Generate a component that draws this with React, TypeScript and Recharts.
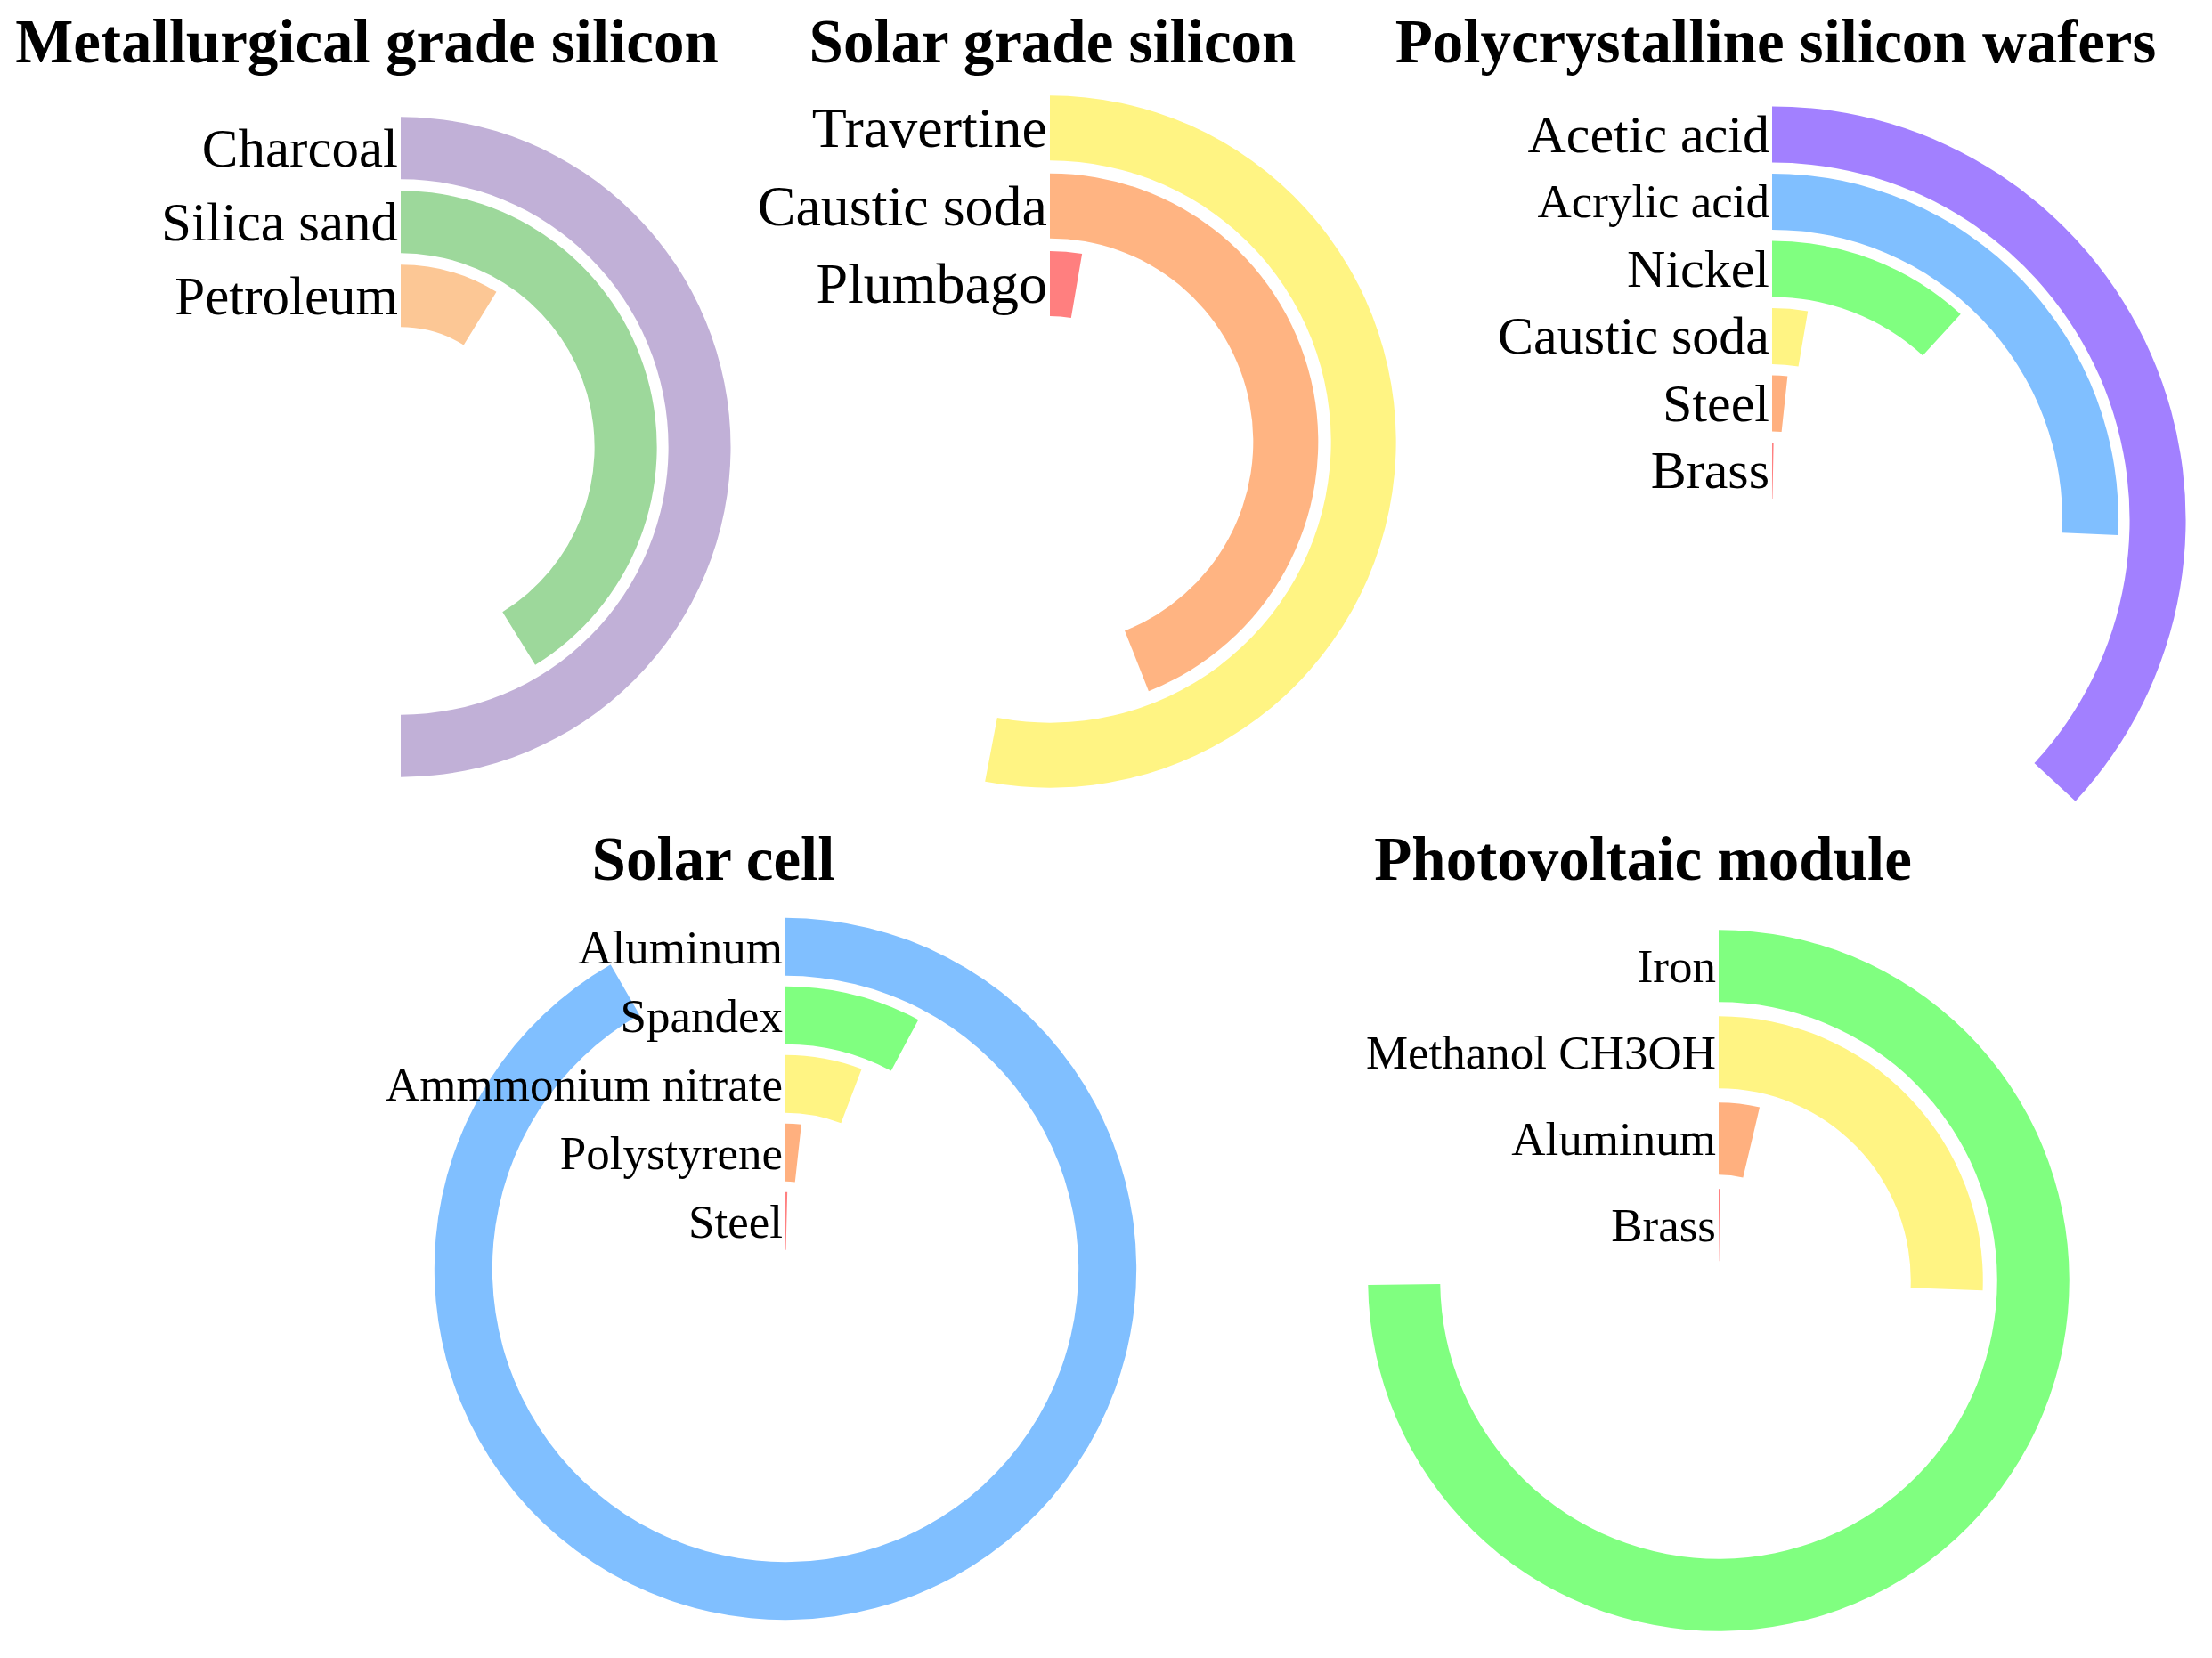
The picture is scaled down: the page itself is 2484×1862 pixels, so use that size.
import { RadialBarChart, RadialBar, PolarAngleAxis, PolarRadiusAxis, Cell } from "recharts";

// shares in % of a full turn
const metallurgicalItems = ["Charcoal", "Silica sand", "Petroleum"];
const metallurgicalShare = [50.0, 41.2, 8.8];

const solarGradeItems = ["Travertine", "Caustic soda", "Plumbago"];
const solarGradeShare = [53.0, 44.0, 2.7];

const waferItems = ["Acetic acid", "Acrylic acid", "Nickel", "Caustic soda", "Steel", "Brass"];
const waferShare = [36.9, 25.7, 11.8, 2.7, 1.7, 0.3];

const cellItems = ["Aluminum", "Spandex", "Ammmonium nitrate", "Polystyrene", "Steel"];
const cellShare = [91.7, 7.8, 5.8, 1.75, 0.4];

const moduleItems = ["Iron", "Methanol CH3OH", "Aluminum", "Brass"];
const moduleShare = [74.8, 25.6, 3.7, 0.2];

const SERIF = "'Liberation Serif', 'Times New Roman', serif";

const panels = [
  {
    title: "Metallurgical grade silicon",
    items: metallurgicalItems,
    share: metallurgicalShare,
    colors: ["#c1b0d7", "#9dd89b", "#fcc795"],
    box: { left: 0, top: 90, width: 830, height: 800 },
    cx: 450, cy: 412, inner: 128, outer: 377,
    labelSize: 61,
    titleX: 412, titleY: 70,
  },
  {
    title: "Solar grade silicon",
    items: solarGradeItems,
    share: solarGradeShare,
    colors: ["#fff483", "#ffb482", "#ff7f7f"],
    box: { left: 830, top: 90, width: 780, height: 800 },
    cx: 349, cy: 406, inner: 134, outer: 396,
    labelSize: 64,
    titleX: 1182, titleY: 70,
  },
  {
    title: "Polycrystalline silicon wafers",
    items: waferItems,
    share: waferShare,
    colors: ["#a280ff", "#80bfff", "#80ff80", "#fff483", "#ffb07f", "#ff8080"],
    box: { left: 1610, top: 90, width: 874, height: 860 },
    cx: 380, cy: 494, inner: 18, outer: 471,
    labelSize: 60,
    labelSizeFor: { "Acrylic acid": 53 } as Record<string, number>,
    titleX: 1994, titleY: 70,
  },
  {
    title: "Solar cell",
    items: cellItems,
    share: cellShare,
    colors: ["#80bfff", "#80ff80", "#fff483", "#ffb07f", "#ff8080"],
    box: { left: 400, top: 1000, width: 1000, height: 850 },
    cx: 482, cy: 425, inner: 15, outer: 400,
    labelSize: 53,
    titleX: 801, titleY: 988,
  },
  {
    title: "Photovoltaic module",
    items: moduleItems,
    share: moduleShare,
    colors: ["#80ff80", "#fff483", "#ffb07f", "#ff8080"],
    box: { left: 1480, top: 1000, width: 1000, height: 850 },
    cx: 450, cy: 438, inner: 14, outer: 402,
    labelSize: 53,
    titleX: 1845, titleY: 988,
  },
];

type Panel = (typeof panels)[number] & { labelSizeFor?: Record<string, number> };

function Ring({ p }: { p: Panel }) {
  // first listed item sits on the outside, so reverse for the radius band scale
  const rows = p.items.map((name, i) => ({ name, share: p.share[i], color: p.colors[i] })).reverse();

  const renderTick = (props: any) => {
    const name = props.payload?.value;
    const size = (p.labelSizeFor && p.labelSizeFor[name]) || p.labelSize;
    return (
      <text
        x={props.x - 3}
        y={props.y}
        textAnchor="end"
        dominantBaseline="central"
        fontFamily={SERIF}
        fontSize={size}
        fill="#000"
      >
        {name}
      </text>
    );
  };

  return (
    <div style={{ position: "absolute", left: p.box.left, top: p.box.top }}>
      <RadialBarChart
        width={p.box.width}
        height={p.box.height}
        data={rows}
        cx={p.cx}
        cy={p.cy}
        innerRadius={p.inner}
        outerRadius={p.outer}
        startAngle={90}
        endAngle={-270}
        barCategoryGap="8%"
        margin={{ top: 0, right: 0, bottom: 0, left: 0 }}
      >
        <PolarAngleAxis type="number" domain={[0, 100]} tick={false} axisLine={false} />
        <PolarRadiusAxis
          type="category"
          dataKey="name"
          angle={90}
          axisLine={false}
          tickLine={false}
          tick={renderTick}
        />
        <RadialBar dataKey="share" isAnimationActive={false}>
          {rows.map((r) => (
            <Cell key={r.name} fill={r.color} />
          ))}
        </RadialBar>
      </RadialBarChart>
    </div>
  );
}

export default function App() {
  return (
    <div style={{ position: "absolute", left: 0, top: 0, width: 2484, height: 1862, background: "#fff" }}>
      {panels.map((p) => (
        <Ring key={p.title} p={p as Panel} />
      ))}
      <svg width={2484} height={1862} style={{ position: "absolute", left: 0, top: 0, pointerEvents: "none" }}>
        {panels.map((p) => (
          <text
            key={p.title}
            x={p.titleX}
            y={p.titleY}
            textAnchor="middle"
            fontFamily={SERIF}
            fontWeight="bold"
            fontSize={69}
            fill="#000"
          >
            {p.title}
          </text>
        ))}
      </svg>
    </div>
  );
}
